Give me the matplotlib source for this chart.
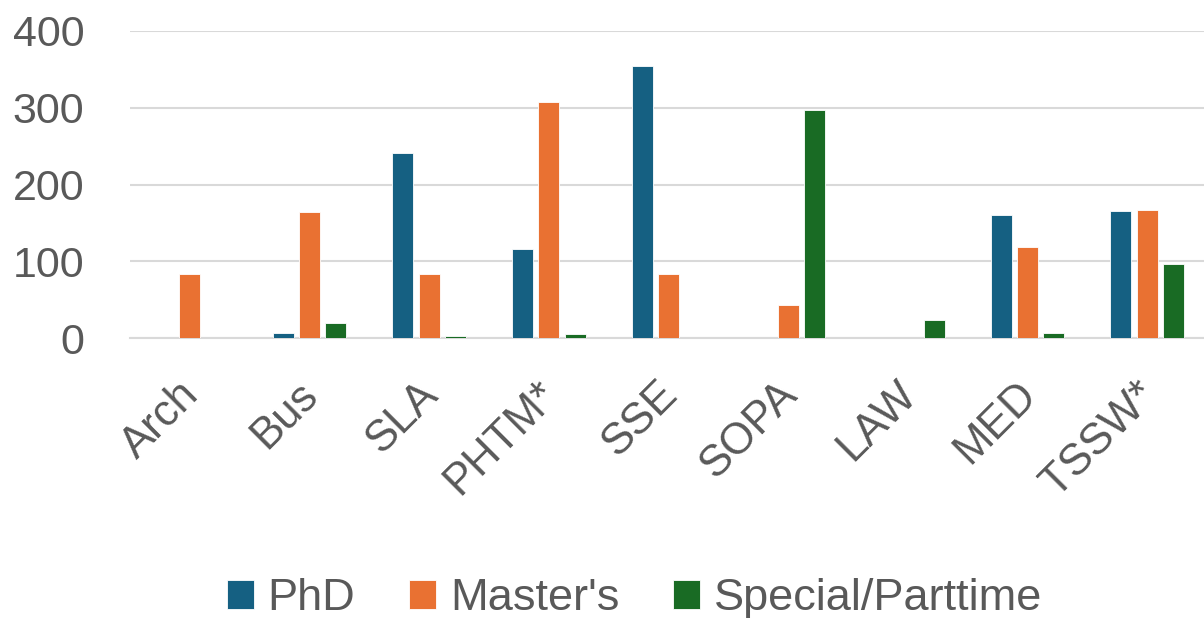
import matplotlib.pyplot as plt
import matplotlib.transforms as mtransforms
import numpy as np

schools = ["Arch", "Bus", "SLA", "PHTM*", "SSE", "SOPA", "LAW", "MED", "TSSW*"]
phd = [0, 7, 241, 116, 355, 0, 0, 160, 165]
masters = [84, 164, 83, 308, 83, 43, 0, 119, 167]
special = [0, 19, 3, 5, 0, 297, 23, 7, 97]
series_names = ["PhD", "Master's", "Special/Parttime"]
colors = ["#156082", "#E97132", "#196B24"]
yticks = [0, 100, 200, 300, 400]

plt.rcParams['font.family'] = ['Liberation Sans', 'DejaVu Sans']
text_color = "#595959"

fig = plt.figure(figsize=(12.04, 6.18), dpi=100)
ax = fig.add_axes([130 / 1204, 280 / 618, 1077 / 1204, 307 / 618])

x = np.arange(len(schools))
width = 0.176
step = 0.22
for i, (vals, name, c) in enumerate(zip([phd, masters, special], series_names, colors)):
    ax.bar(x + (i - 1) * step, vals, width, color=c, label=name,
           edgecolor="white", linewidth=0.6, zorder=3)

ax.set_xlim(-0.5, len(schools) - 0.5)
ax.set_ylim(0, 400)
ax.set_yticks(yticks)
ax.set_xticks(x)
ax.set_xticklabels(schools, rotation=45, ha="right", rotation_mode="anchor")
ax.grid(axis="y", color="#D9D9D9", linewidth=1.5, zorder=0)
for s in ["top", "right", "left"]:
    ax.spines[s].set_visible(False)
ax.spines["bottom"].set_color("#D9D9D9")
ax.spines["bottom"].set_linewidth(1.5)
ax.tick_params(axis="y", length=0, pad=33, labelsize=31, labelcolor=text_color)
ax.tick_params(axis="x", length=0, pad=20, labelsize=31.5, labelcolor=text_color)

# nudge the slanted category labels down and to the left
offset = mtransforms.ScaledTranslation(-0.12, -0.08, fig.dpi_scale_trans)
for lbl in ax.get_xticklabels():
    lbl.set_transform(lbl.get_transform() + offset)

fig.legend(loc="center", bbox_to_anchor=(0.527, 0.031), ncol=3,
           frameon=False, fontsize=32.5, labelcolor=text_color,
           handlelength=0.6, handleheight=0.6, handletextpad=0.3, columnspacing=1.2)

fig.savefig("out.png", dpi=100)
